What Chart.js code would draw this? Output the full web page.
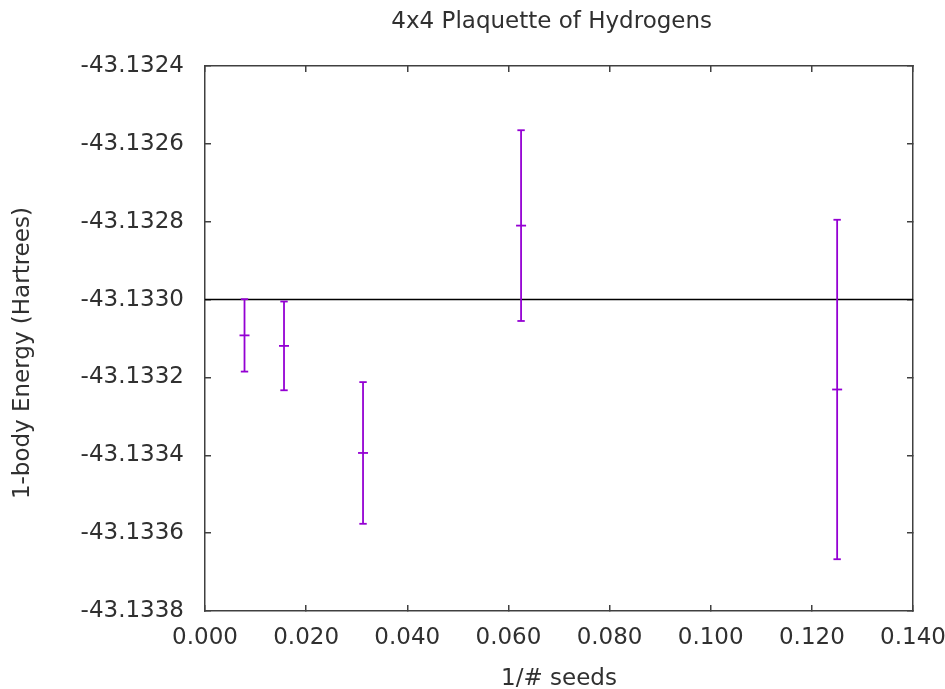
<!DOCTYPE html>
<html>
<head>
<meta charset="utf-8">
<title>4x4 Plaquette of Hydrogens</title>
<script src="https://cdn.jsdelivr.net/npm/chart.js@4/dist/chart.umd.min.js"></script>
<style>
  html, body { margin: 0; padding: 0; background: #fff; }
  #wrap { width: 945px; height: 689px; }
</style>
</head>
<body>
<div id="wrap"><canvas id="plot"></canvas></div>
<script>
// 1/# seeds and the 1-body energies (Hartrees) with their error bars
const seedFractions = [0.0078125, 0.015625, 0.03125, 0.0625, 0.125];
const energies = [-43.133092, -43.133119, -43.133394, -43.132810, -43.133231];
const energyErrors = [0.000093, 0.000114, 0.000182, 0.000245, 0.000436];
const referenceEnergy = -43.1330;

const xTicks = [0.000, 0.020, 0.040, 0.060, 0.080, 0.100, 0.120, 0.140];
const yTicks = [-43.1338, -43.1336, -43.1334, -43.1332, -43.1330, -43.1328, -43.1326, -43.1324];

const purple = '#9400d3';
const frameColor = '#404040';

Chart.defaults.font.family = '"DejaVu Sans", sans-serif';
Chart.defaults.font.size = 23;
Chart.defaults.color = '#303030';

// one little line dataset per error bar, caps drawn as 'line' points
const errorBarSets = seedFractions.map((x, i) => ({
    type: 'line',
    data: [
        { x: x, y: energies[i] - energyErrors[i] },
        { x: x, y: energies[i] + energyErrors[i] }
    ],
    borderColor: purple,
    borderWidth: 1.8,
    pointStyle: 'line',
    pointRadius: 3.7,
    pointBorderColor: purple,
    pointBorderWidth: 1.8
}));

const centreSet = {
    type: 'scatter',
    data: seedFractions.map((x, i) => ({ x: x, y: energies[i] })),
    pointStyle: 'line',
    pointRadius: 5,
    borderColor: purple,
    pointBorderColor: purple,
    pointBorderWidth: 1.8
};

const referenceSet = {
    type: 'line',
    data: [{ x: xTicks[0], y: referenceEnergy }, { x: xTicks[xTicks.length - 1], y: referenceEnergy }],
    borderColor: '#000',
    borderWidth: 1.5,
    pointRadius: 0
};

function inwardGrid() {
    return {
        drawOnChartArea: false,
        drawTicks: true,
        tickLength: -6,
        color: frameColor,
        lineWidth: 1.5
    };
}

function frameBorder() {
    return { display: true, color: frameColor, width: 1.5 };
}

// keep the edge labels from pushing the plot area around
function noEdgePadding(scale) {
    scale.paddingLeft = 0;
    scale.paddingRight = 0;
    scale.paddingTop = 0;
    scale.paddingBottom = 0;
}

new Chart(document.getElementById('plot'), {
    type: 'scatter',
    data: { datasets: [...errorBarSets, centreSet, referenceSet] },
    options: {
        responsive: true,
        maintainAspectRatio: false,
        animation: false,
        events: [],
        layout: { padding: { left: 0, right: 32, top: 0, bottom: 0 } },
        plugins: {
            legend: { display: false },
            tooltip: { enabled: false }
        },
        scales: {
            x: {
                type: 'linear',
                position: 'bottom',
                min: xTicks[0],
                max: xTicks[xTicks.length - 1],
                afterBuildTicks: (scale) => { scale.ticks = xTicks.map(v => ({ value: v })); },
                afterFit: (scale) => { scale.height = 78; noEdgePadding(scale); },
                ticks: {
                    autoSkip: false,
                    maxRotation: 0,
                    padding: 19,
                    callback: (v) => Number(v).toFixed(3)
                },
                grid: inwardGrid(),
                border: frameBorder(),
                title: {
                    display: true,
                    text: '1/# seeds',
                    font: { size: 23, lineHeight: 0.9 },
                    padding: { top: 0, bottom: 0 }
                }
            },
            x2: {
                type: 'linear',
                axis: 'x',
                position: 'top',
                min: xTicks[0],
                max: xTicks[xTicks.length - 1],
                afterBuildTicks: (scale) => { scale.ticks = xTicks.map(v => ({ value: v })); },
                afterFit: (scale) => { scale.height = 66; noEdgePadding(scale); },
                ticks: { display: false },
                grid: inwardGrid(),
                border: frameBorder(),
                title: {
                    display: true,
                    // trailing spaces nudge it a little left of the plot centre, like gnuplot
                    text: '4x4 Plaquette of Hydrogens  ',
                    font: { size: 23 },
                    padding: { top: 8, bottom: 0 }
                }
            },
            y: {
                type: 'linear',
                position: 'left',
                min: yTicks[0],
                max: yTicks[yTicks.length - 1],
                afterBuildTicks: (scale) => { scale.ticks = yTicks.map(v => ({ value: v })); },
                afterFit: (scale) => { scale.width = 205; noEdgePadding(scale); },
                ticks: {
                    autoSkip: false,
                    padding: 27,
                    callback: (v) => Number(v).toFixed(4)
                },
                grid: inwardGrid(),
                border: frameBorder(),
                title: {
                    display: true,
                    text: '1-body Energy (Hartrees)    ',
                    padding: { top: 9, bottom: 0 }
                }
            },
            y2: {
                type: 'linear',
                axis: 'y',
                position: 'right',
                min: yTicks[0],
                max: yTicks[yTicks.length - 1],
                afterBuildTicks: (scale) => { scale.ticks = yTicks.map(v => ({ value: v })); },
                afterFit: (scale) => { scale.width = 0; noEdgePadding(scale); },
                ticks: { display: false },
                grid: inwardGrid(),
                border: frameBorder()
            }
        }
    }
});
</script>
</body>
</html>
